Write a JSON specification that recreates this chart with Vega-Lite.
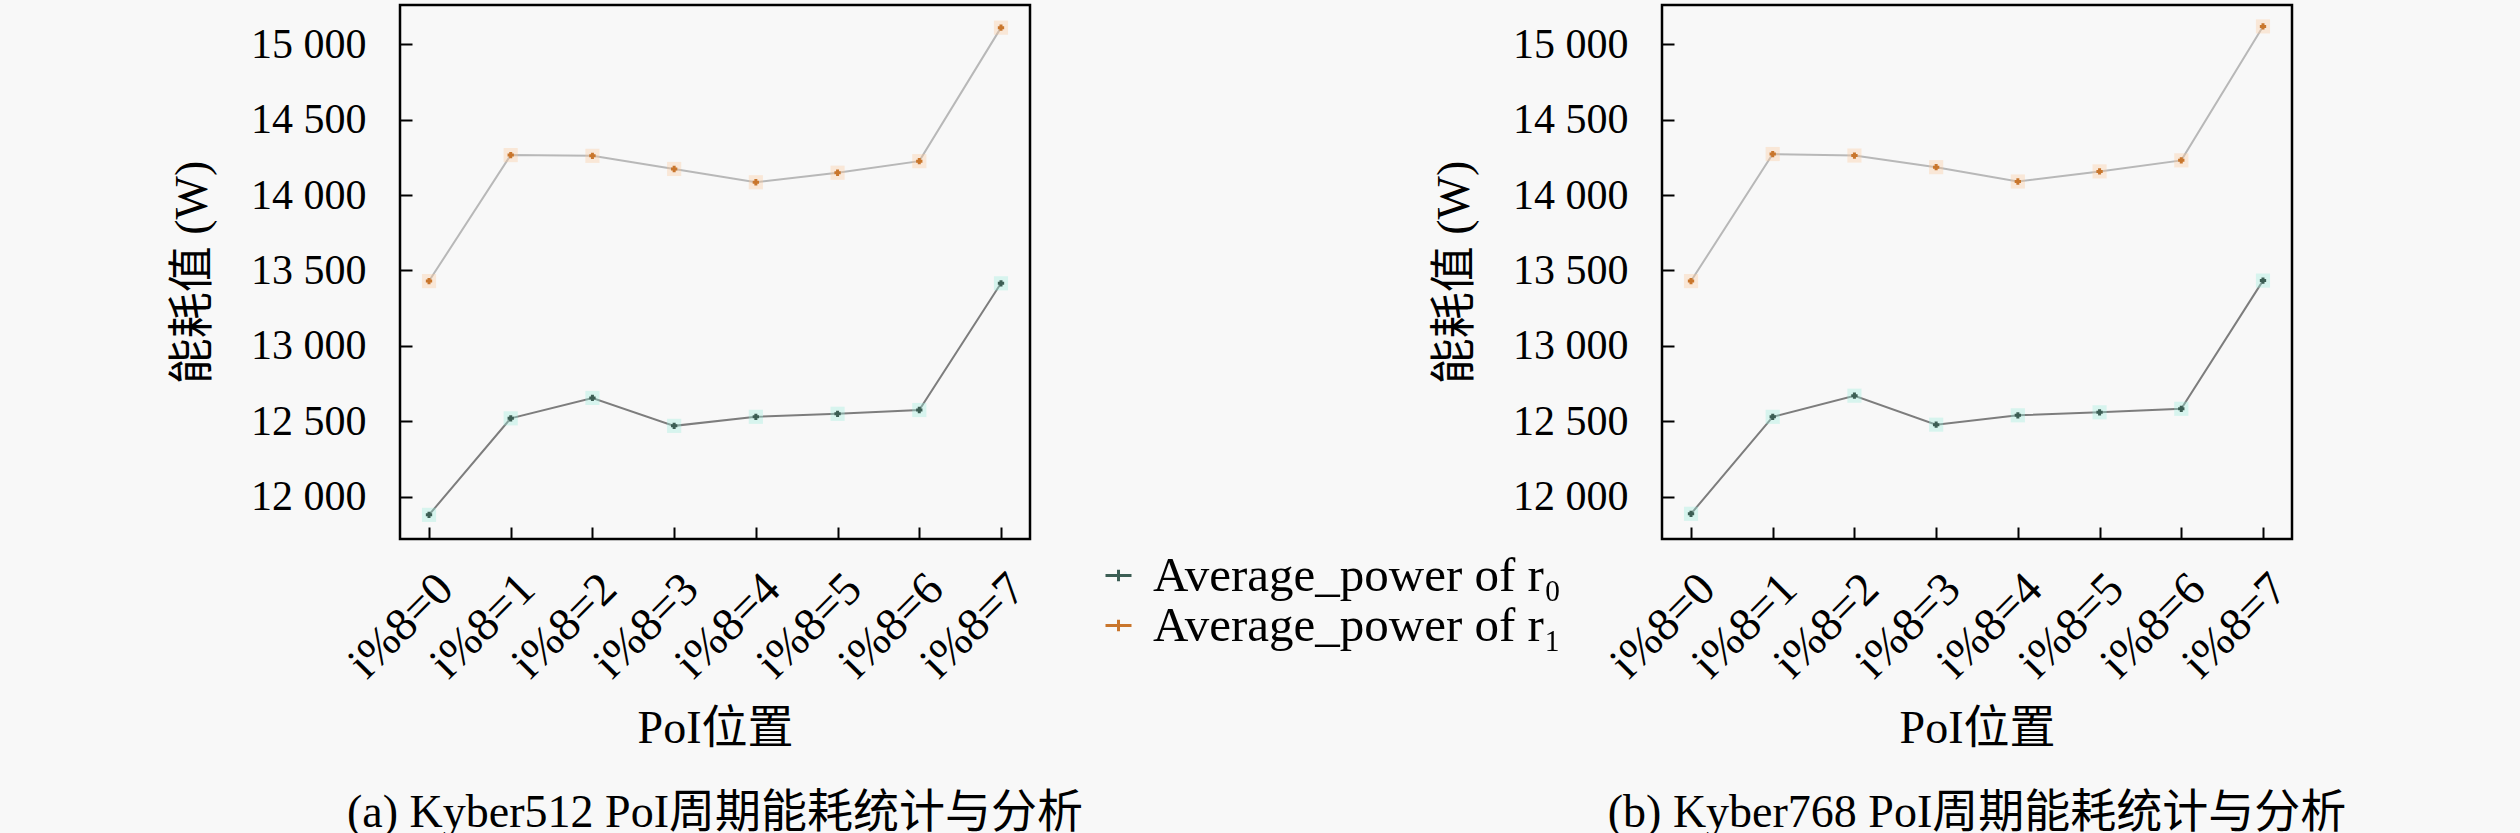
{
  "$schema": "https://vega.github.io/schema/vega-lite/v6.json",
  "background": "#f8f8f8",
  "padding": {"left": 168, "top": 3, "right": 215, "bottom": 0},
  "datasets": {
    "energy": [
      {"panel": "a", "pos": "i%8=0", "series": "Average_power of r₀", "value": 11880},
      {"panel": "a", "pos": "i%8=1", "series": "Average_power of r₀", "value": 12520},
      {"panel": "a", "pos": "i%8=2", "series": "Average_power of r₀", "value": 12655},
      {"panel": "a", "pos": "i%8=3", "series": "Average_power of r₀", "value": 12470},
      {"panel": "a", "pos": "i%8=4", "series": "Average_power of r₀", "value": 12530},
      {"panel": "a", "pos": "i%8=5", "series": "Average_power of r₀", "value": 12550},
      {"panel": "a", "pos": "i%8=6", "series": "Average_power of r₀", "value": 12575},
      {"panel": "a", "pos": "i%8=7", "series": "Average_power of r₀", "value": 13415},
      {"panel": "a", "pos": "i%8=0", "series": "Average_power of r₁", "value": 13430},
      {"panel": "a", "pos": "i%8=1", "series": "Average_power of r₁", "value": 14265},
      {"panel": "a", "pos": "i%8=2", "series": "Average_power of r₁", "value": 14260},
      {"panel": "a", "pos": "i%8=3", "series": "Average_power of r₁", "value": 14173},
      {"panel": "a", "pos": "i%8=4", "series": "Average_power of r₁", "value": 14085},
      {"panel": "a", "pos": "i%8=5", "series": "Average_power of r₁", "value": 14148},
      {"panel": "a", "pos": "i%8=6", "series": "Average_power of r₁", "value": 14225},
      {"panel": "a", "pos": "i%8=7", "series": "Average_power of r₁", "value": 15110},
      {"panel": "b", "pos": "i%8=0", "series": "Average_power of r₀", "value": 11887},
      {"panel": "b", "pos": "i%8=1", "series": "Average_power of r₀", "value": 12530},
      {"panel": "b", "pos": "i%8=2", "series": "Average_power of r₀", "value": 12670},
      {"panel": "b", "pos": "i%8=3", "series": "Average_power of r₀", "value": 12478},
      {"panel": "b", "pos": "i%8=4", "series": "Average_power of r₀", "value": 12540},
      {"panel": "b", "pos": "i%8=5", "series": "Average_power of r₀", "value": 12560},
      {"panel": "b", "pos": "i%8=6", "series": "Average_power of r₀", "value": 12583},
      {"panel": "b", "pos": "i%8=7", "series": "Average_power of r₀", "value": 13433},
      {"panel": "b", "pos": "i%8=0", "series": "Average_power of r₁", "value": 13430},
      {"panel": "b", "pos": "i%8=1", "series": "Average_power of r₁", "value": 14272},
      {"panel": "b", "pos": "i%8=2", "series": "Average_power of r₁", "value": 14262},
      {"panel": "b", "pos": "i%8=3", "series": "Average_power of r₁", "value": 14185},
      {"panel": "b", "pos": "i%8=4", "series": "Average_power of r₁", "value": 14090},
      {"panel": "b", "pos": "i%8=5", "series": "Average_power of r₁", "value": 14157},
      {"panel": "b", "pos": "i%8=6", "series": "Average_power of r₁", "value": 14230},
      {"panel": "b", "pos": "i%8=7", "series": "Average_power of r₁", "value": 15118}
    ]
  },
  "config": {
    "font": "Liberation Serif, Noto Sans CJK SC",
    "view": {"stroke": "#000000", "strokeWidth": 2.5, "fill": "#f8f8f8"},
    "axis": {
      "domain": false,
      "grid": false,
      "tickColor": "#000000",
      "tickWidth": 2,
      "labelColor": "#000000",
      "titleColor": "#000000",
      "labelFont": "Liberation Serif, Noto Sans CJK SC",
      "titleFont": "Liberation Serif, Noto Sans CJK SC",
      "labelFontSize": 42,
      "titleFontSize": 46,
      "titleFontWeight": "normal"
    },
    "title": {"fontSize": 46, "fontWeight": "normal", "color": "#000000", "font": "Liberation Serif, Noto Sans CJK SC"},
    "legend": {"labelFont": "Liberation Serif, Noto Sans CJK SC", "labelColor": "#000000"}
  },
  "bounds": "flush",
  "spacing": 632,
  "resolve": {"scale": {"color": "independent", "x": "independent", "y": "independent"}, "legend": {"color": "independent"}},
  "hconcat": [
    {
      "width": 630,
      "height": 534,
      "title": {"text": "(a) Kyber512 PoI周期能耗统计与分析", "orient": "bottom", "offset": 40},
      "data": {"name": "energy"},
      "transform": [{"filter": "datum.panel == 'a'"}],
      "encoding": {
        "x": {
          "field": "pos", "type": "ordinal", "sort": null,
          "scale": {"type": "point", "padding": 0.355},
          "axis": {"title": "PoI位置", "labelAngle": -45, "labelFontSize": 47, "tickSize": -12, "labelPadding": 38, "titlePadding": 20}
        },
        "y": {
          "field": "value", "type": "quantitative",
          "scale": {"domain": [11720, 15260], "nice": false, "zero": false},
          "axis": {
            "title": "能耗值 (W)",
            "values": [12000, 12500, 13000, 13500, 14000, 14500, 15000],
            "labelExpr": "replace(format(datum.value, ','), ',', ' ')",
            "tickSize": -12, "labelPadding": 46, "titlePadding": 34
          }
        }
      },
      "layer": [
        {
          "mark": {"type": "line", "strokeWidth": 2},
          "encoding": {"stroke": {"field": "series", "type": "nominal", "scale": {"range": ["#7d7d7d", "#b8b8b8"]}, "legend": null}}
        },
        {
          "mark": {"type": "square", "size": 200, "opacity": 0.35},
          "encoding": {"fill": {"field": "series", "type": "nominal", "scale": {"range": ["#9cefdc", "#fcc89c"]}, "legend": null}}
        },
        {
          "mark": {"type": "point", "filled": false, "shape": "M-1,0H1M0,-1V1", "size": 40, "strokeWidth": 3, "opacity": 1},
          "encoding": {
            "color": {
              "field": "series", "type": "nominal",
              "scale": {"range": ["#3c5e54", "#c9762c"]},
              "legend": {
                "orient": "none", "legendX": 694, "legendY": 546, "title": null,
                "symbolType": "M-1,0H1M0,-0.45V0.45", "symbolSize": 676, "symbolStrokeWidth": 3,
                "labelFontSize": 49, "labelLimit": 800, "labelOffset": 10, "rowPadding": -4, "padding": 0
              }
            }
          }
        }
      ]
    },
    {
      "width": 630,
      "height": 534,
      "title": {"text": "(b) Kyber768 PoI周期能耗统计与分析", "orient": "bottom", "offset": 40},
      "data": {"name": "energy"},
      "transform": [{"filter": "datum.panel == 'b'"}],
      "encoding": {
        "x": {
          "field": "pos", "type": "ordinal", "sort": null,
          "scale": {"type": "point", "padding": 0.355},
          "axis": {"title": "PoI位置", "labelAngle": -45, "labelFontSize": 47, "tickSize": -12, "labelPadding": 38, "titlePadding": 20}
        },
        "y": {
          "field": "value", "type": "quantitative",
          "scale": {"domain": [11720, 15260], "nice": false, "zero": false},
          "axis": {
            "title": "能耗值 (W)",
            "values": [12000, 12500, 13000, 13500, 14000, 14500, 15000],
            "labelExpr": "replace(format(datum.value, ','), ',', ' ')",
            "tickSize": -12, "labelPadding": 46, "titlePadding": 34
          }
        }
      },
      "layer": [
        {
          "mark": {"type": "line", "strokeWidth": 2},
          "encoding": {"stroke": {"field": "series", "type": "nominal", "scale": {"range": ["#7d7d7d", "#b8b8b8"]}, "legend": null}}
        },
        {
          "mark": {"type": "square", "size": 200, "opacity": 0.35},
          "encoding": {"fill": {"field": "series", "type": "nominal", "scale": {"range": ["#9cefdc", "#fcc89c"]}, "legend": null}}
        },
        {
          "mark": {"type": "point", "filled": false, "shape": "M-1,0H1M0,-1V1", "size": 40, "strokeWidth": 3, "opacity": 1},
          "encoding": {
            "color": {"field": "series", "type": "nominal", "scale": {"range": ["#3c5e54", "#c9762c"]}, "legend": null}
          }
        }
      ]
    }
  ]
}
